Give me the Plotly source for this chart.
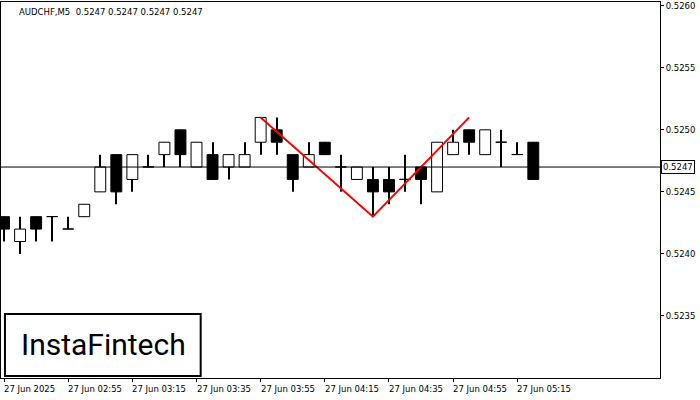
import plotly.graph_objects as go

times = ["02:35","02:40","02:45","02:50","02:55","03:00","03:05","03:10","03:15","03:20","03:25","03:30",
         "03:35","03:40","03:45","03:50","03:55","04:00","04:05","04:10","04:15","04:20","04:25","04:30",
         "04:35","04:40","04:45","04:50","04:55","05:00","05:05","05:10","05:15","05:20"]
opens  = [0.5243,0.5241,0.5243,0.5243,0.5242,0.5243,0.5245,0.5248,0.5246,0.5247,0.5248,0.5250,
          0.5247,0.5248,0.5247,0.5247,0.5249,0.5250,0.5248,0.5247,0.5249,0.5247,0.5246,0.5246,
          0.5246,0.5246,0.5247,0.5245,0.5248,0.5250,0.5248,0.5249,0.5248,0.5249]
highs  = [0.5243,0.5243,0.5243,0.5243,0.5243,0.5244,0.5248,0.5248,0.5248,0.5248,0.5249,0.5250,
          0.5249,0.5249,0.5248,0.5249,0.5251,0.5251,0.5248,0.5249,0.5249,0.5248,0.5247,0.5247,
          0.5247,0.5248,0.5247,0.5249,0.5250,0.5250,0.5250,0.5250,0.5249,0.5249]
lows   = [0.5241,0.5240,0.5241,0.5241,0.5242,0.5243,0.5245,0.5244,0.5245,0.5247,0.5247,0.5247,
          0.5247,0.5246,0.5246,0.5247,0.5248,0.5248,0.5245,0.5247,0.5248,0.5245,0.5246,0.5243,
          0.5244,0.5245,0.5244,0.5245,0.5248,0.5248,0.5248,0.5247,0.5248,0.5246]
closes = [0.5242,0.5242,0.5242,0.5243,0.5242,0.5244,0.5247,0.5245,0.5248,0.5247,0.5249,0.5248,
          0.5249,0.5246,0.5248,0.5248,0.5251,0.5249,0.5246,0.5248,0.5248,0.5247,0.5247,0.5245,
          0.5245,0.5246,0.5246,0.5249,0.5249,0.5249,0.5250,0.5249,0.5248,0.5246]
pattern_idx = [16, 23, 29]
pattern_px = [0.5251, 0.5243, 0.5251]
last_price = 0.5247
tick_idx = [0, 4, 8, 12, 16, 20, 24, 28, 32]
tick_text = ["27 Jun 2025","27 Jun 02:55","27 Jun 03:15","27 Jun 03:35","27 Jun 03:55",
             "27 Jun 04:15","27 Jun 04:35","27 Jun 04:55","27 Jun 05:15"]
yticks = [0.5235, 0.5240, 0.5245, 0.5250, 0.5255, 0.5260]

x = list(range(len(times)))
fig = go.Figure()
body_base = [min(o, c) for o, c in zip(opens, closes)]
body_h = [max(abs(c - o), 0.0000012) for o, c in zip(opens, closes)]
fig.add_trace(go.Bar(x=x, y=[h - l for h, l in zip(highs, lows)], base=lows, width=0.06,
    marker=dict(color="black", line=dict(width=0)), showlegend=False, hoverinfo="skip"))
fig.add_trace(go.Bar(x=x, y=body_h, base=body_base, width=0.68,
    marker=dict(color=["white" if c > o else "black" for o, c in zip(opens, closes)],
                line=dict(color="black", width=1)),
    showlegend=False, hoverinfo="skip"))
fig.add_trace(go.Scatter(x=pattern_idx, y=pattern_px, mode="lines",
    line=dict(color="#ff0000", width=2), showlegend=False, hoverinfo="skip"))
fig.add_hline(y=last_price, line=dict(color="black", width=1))

fig.update_layout(
    width=700, height=400, paper_bgcolor="white", plot_bgcolor="white", barmode="overlay",
    margin=dict(l=1, r=40, t=2, b=22),
    font=dict(family="DejaVu Sans", size=9, color="black"),
    xaxis=dict(range=[-0.19, 40.9], showgrid=False, zeroline=False, showticklabels=False,
               showline=True, linecolor="black", mirror=True, automargin=False,
               tickvals=tick_idx, ticks="outside", ticklen=3, tickcolor="black"),
    yaxis=dict(range=[0.52300, 0.52603], side="right", tickvals=yticks,
               ticktext=[f"{v:.4f}" for v in yticks], showgrid=False, zeroline=False,
               showline=True, linecolor="black", mirror=True, ticks="outside", ticklen=3,
               tickcolor="black", automargin=False, tickfont=dict(size=8.5)),
)
for i, t in zip(tick_idx, tick_text):
    fig.add_annotation(x=i, y=0, yref="paper", text=t, showarrow=False, xanchor="left",
                       yanchor="top", yshift=-4, xshift=-2, font=dict(size=8.5))
fig.add_annotation(x=1, y=last_price, xref="paper", text=f"{last_price:.4f}", showarrow=False,
                   xanchor="left", xshift=1, bgcolor="white", bordercolor="black", borderwidth=1,
                   borderpad=1, font=dict(size=8.5))
fig.add_annotation(x=0.025, y=0.993, xref="paper", yref="paper",
                   text="AUDCHF,M5  0.5247 0.5247 0.5247 0.5247", showarrow=False,
                   xanchor="left", yanchor="top", font=dict(size=8.5))
fig.add_shape(type="rect", xref="paper", yref="paper", x0=0.006, x1=0.303, y0=0.005, y1=0.17,
              line=dict(color="black", width=2), fillcolor="white")
fig.add_annotation(x=0.155, y=0.088, xref="paper", yref="paper", text="InstaFintech",
                   showarrow=False, xanchor="center", yanchor="middle",
                   font=dict(size=30, family="Roboto", color="black"))
fig.write_html("out.html", config={"displayModeBar": False},
               post_script="document.body.style.margin='0';document.body.style.overflow='hidden';")
